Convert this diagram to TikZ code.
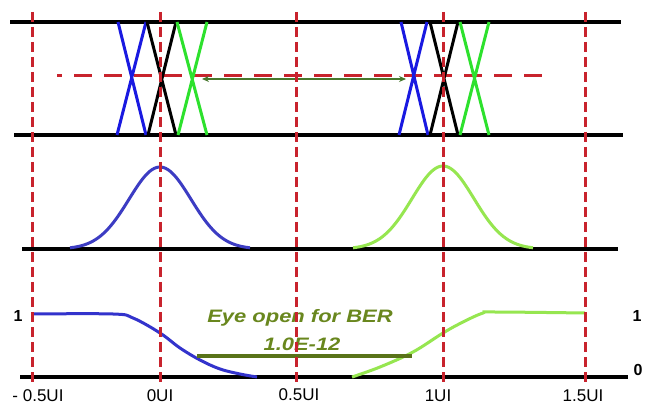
\documentclass[tikz,border=0pt]{standalone}
\usepackage{fontspec}
\setmainfont{Liberation Sans}
\usepackage{graphicx}
\usetikzlibrary{arrows.meta}
\definecolor{redd}{RGB}{200,35,45}
\definecolor{blueX}{RGB}{25,25,225}
\definecolor{greenX}{RGB}{45,225,45}
\definecolor{gblue}{RGB}{60,60,195}
\definecolor{lgreen}{RGB}{150,230,80}
\definecolor{dgreen}{RGB}{70,120,45}
\definecolor{olive}{RGB}{105,135,30}
\tikzset{
  railline/.style={line width=4pt,black},
  guide/.style={line width=3pt,redd,dash pattern=on 10pt off 5pt},
  hguide/.style={line width=3pt,redd,dash pattern=on 18pt off 12pt,dash phase=13pt},
  xline/.style={line width=3pt},
  curve/.style={line width=3pt},
  axlabel/.style={font=\fontsize{17}{17}\selectfont,inner sep=0pt},
}
\begin{document}
\begin{tikzpicture}[x=1pt,y=-1pt]
\useasboundingbox[fill=white] (0,0) rectangle (655,419);
% black rails
\draw[railline] (10,22) coordinate (r1a) -- (621,22) coordinate (r1b);
\draw[railline] (14,135) coordinate (r2a) -- (623,135) coordinate (r2b);
\draw[railline] (22,249) coordinate (r3a) -- (618,249) coordinate (r3b);
\draw[railline] (20,377) coordinate (r4a) -- (628,377) coordinate (r4b);
% horizontal red dashed
\draw[hguide] (57,76) coordinate (ha) -- (543,76) coordinate (hb);
% crossings left
\draw[xline,blueX] (118,22) -- (146,135) (146,22) -- (117,135);
\draw[xline,black] (147,22) -- (176,135) (176,22) -- (148,135);
\draw[xline,greenX] (177,22) -- (207,135) (207,22) -- (178,135);
% crossings right
\draw[xline,blueX] (401,22) -- (428,135) (427,22) -- (399,135);
\draw[xline,black] (430,22) -- (458,135) (458,22) -- (430,135);
\draw[xline,greenX] (460,22) -- (489,135) (489,22) -- (460,135);
% green arrow
\coordinate (ga) at (202,79);
\coordinate (gb) at (406,79);
\draw[dgreen,line width=2pt,{Stealth[length=7pt,width=6pt]}-{Stealth[length=7pt,width=6pt]}] (ga) -- (gb);
% gaussians
\draw[curve,gblue] plot[domain=-90:90,samples=80] ({160+\x},{249-82*exp(-(\x*\x)/(2*31*31))});
\draw[curve,lgreen] plot[domain=-90:90,samples=80] ({443+\x},{249-83*exp(-(\x*\x)/(2*31*31))});
% bottom transitions
\draw[curve,gblue!85!blue] plot[smooth,tension=0.6] coordinates {(32,314) (113,314) (133,318) (160,333) (180,348) (200,360) (220,369) (240,374) (257,377)};
\draw[curve,lgreen] plot[smooth,tension=0.6] coordinates {(352,377) (380,367) (413,352) (443,333) (463,322) (483,313) (495,312) (585,313)};
% eye opening
\draw[olive!85!black,line width=4pt] (197,356) coordinate (ea) -- (412,356) coordinate (eb);
\node[olive,font=\fontsize{18}{18}\selectfont\bfseries\itshape,inner sep=0pt,anchor=base] (t1) at (300,322) {\scalebox{1.22}[1]{Eye open for BER}};
\node[olive,font=\fontsize{18}{18}\selectfont\bfseries\itshape,inner sep=0pt,anchor=base] (t2) at (302,350) {\scalebox{1.22}[1]{1.0E-12}};
% level labels
\node[axlabel,font=\fontsize{16}{16}\selectfont\bfseries] (one1) at (18,316) {1};
\node[axlabel,font=\fontsize{16}{16}\selectfont\bfseries] (one2) at (637,316) {1};
\node[axlabel,font=\fontsize{16}{16}\selectfont\bfseries] (zero) at (638,370) {0};
% axis labels
\node[axlabel,anchor=base] (l0) at (38,401) {- 0.5UI};
\node[axlabel,anchor=base] (l1) at (160,401) {0UI};
\node[axlabel,anchor=base] (l2) at (299,400) {0.5UI};
\node[axlabel,anchor=base] (l3) at (438,401) {1UI};
\node[axlabel,anchor=base] (l4) at (583,401) {1.5UI};
% red vertical guides
\foreach \gx/\nm in {32/va,160/vb,296/vc,443/vd,585/ve}{
  \draw[guide] (\gx,12) coordinate (\nm top) -- (\gx,386) coordinate (\nm bot);
}
\end{tikzpicture}
\end{document}
